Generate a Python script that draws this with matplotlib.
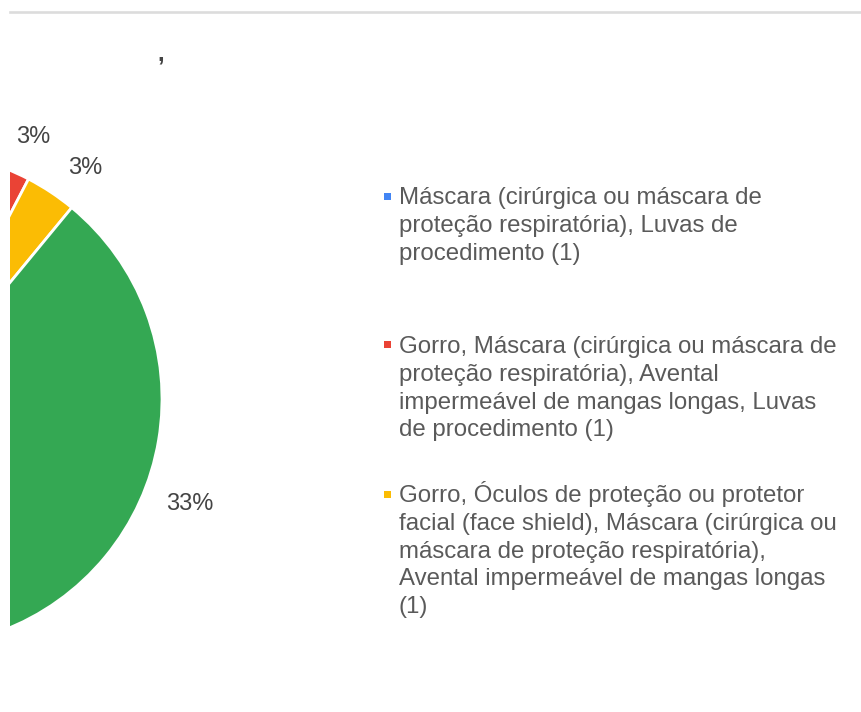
import numpy as np
import matplotlib
matplotlib.use("Agg")
import matplotlib.pyplot as plt
from matplotlib.patches import Rectangle
from matplotlib.lines import Line2D

plt.rcParams["font.family"] = ["Liberation Sans", "DejaVu Sans"]

# response counts per answer (first four are visible, the rest fall off the left edge)
counts = [1, 1, 1, 10, 5, 4, 3, 2, 2, 1]
colors = ["#4285F4", "#EA4335", "#FBBC04", "#34A853", "#FF6D01",
          "#46BDC6", "#7BAAF7", "#F07B72", "#FCD04F", "#71C287"]

legend_labels = [
    "Máscara (cirúrgica ou máscara de\nproteção respiratória), Luvas de\nprocedimento (1)",
    "Gorro, Máscara (cirúrgica ou máscara de\nproteção respiratória), Avental\n"
    "impermeável de mangas longas, Luvas\nde procedimento (1)",
    "Gorro, Óculos de proteção ou protetor\nfacial (face shield), Máscara (cirúrgica ou\n"
    "máscara de proteção respiratória),\nAvental impermeável de mangas longas\n(1)",
]
legend_colors = colors[:3]
title = ","

W, H = 861, 712
fig = plt.figure(figsize=(W / 100, H / 100), dpi=100)

# pie is centred left of the visible area and clipped at x=10px
R_PX = 248.0
CX, CY = -86.0, 399.0
ax_l, ax_r, ax_t, ax_b = 10, 370, 20, 712
ax = fig.add_axes([ax_l / W, 1 - ax_b / H, (ax_r - ax_l) / W, (ax_b - ax_t) / H])

wedges, texts, autotexts = ax.pie(
    counts, colors=colors, startangle=86.5, counterclock=False,
    autopct="%.0f%%", pctdistance=1.16,
    wedgeprops=dict(edgecolor="white", linewidth=2.0),
    textprops=dict(fontsize=17, color="#444444"),
)
ax.set_aspect("auto")
xmin = (ax_l - CX) / R_PX
ax.set_xlim(xmin, (ax_r - CX) / R_PX)
ax.set_ylim((CY - ax_b) / R_PX, (CY - ax_t) / R_PX)
ax.axis("off")

for w in wedges:
    w.set_clip_on(True)
    w.set_clip_path(ax.patch)

# label placement: small slices a bit clockwise of the middle, big one lower
for i, (w, t) in enumerate(zip(wedges, autotexts)):
    mid = 0.5 * (w.theta1 + w.theta2)
    r = 1.16
    if i == 3:
        mid, r = -20.8, 1.19
    else:
        mid -= 3.0
    a = np.deg2rad(mid)
    x, y = r * np.cos(a), r * np.sin(a)
    t.set_position((x, y))
    if x < xmin + 0.05 or y < (CY - ax_b) / R_PX:
        t.set_visible(False)

# top rule
fig.add_artist(Line2D([10 / W, 1], [1 - 11.5 / H] * 2, color="#dcdcdc", lw=1.9))

fig.text(157 / W, 1 - 60 / H, title, fontsize=17, color="#444444",
         fontweight="bold", va="baseline")

# legend drawn by hand (Google style, wrapped lines)
step = 27.8
for k, (lab, col) in enumerate(zip(legend_labels, legend_colors)):
    base = 204 + k * 149
    fig.add_artist(Rectangle((384 / W, 1 - (base - 4.5) / H), 7 / W, 7 / H,
                             transform=fig.transFigure, color=col, lw=0))
    for i, line in enumerate(lab.split("\n")):
        fig.text(399 / W, 1 - (base + i * step) / H, line, fontsize=17.25,
                 color="#5a5a5a", va="baseline", ha="left")

fig.savefig("out.png", dpi=100, facecolor="white")
